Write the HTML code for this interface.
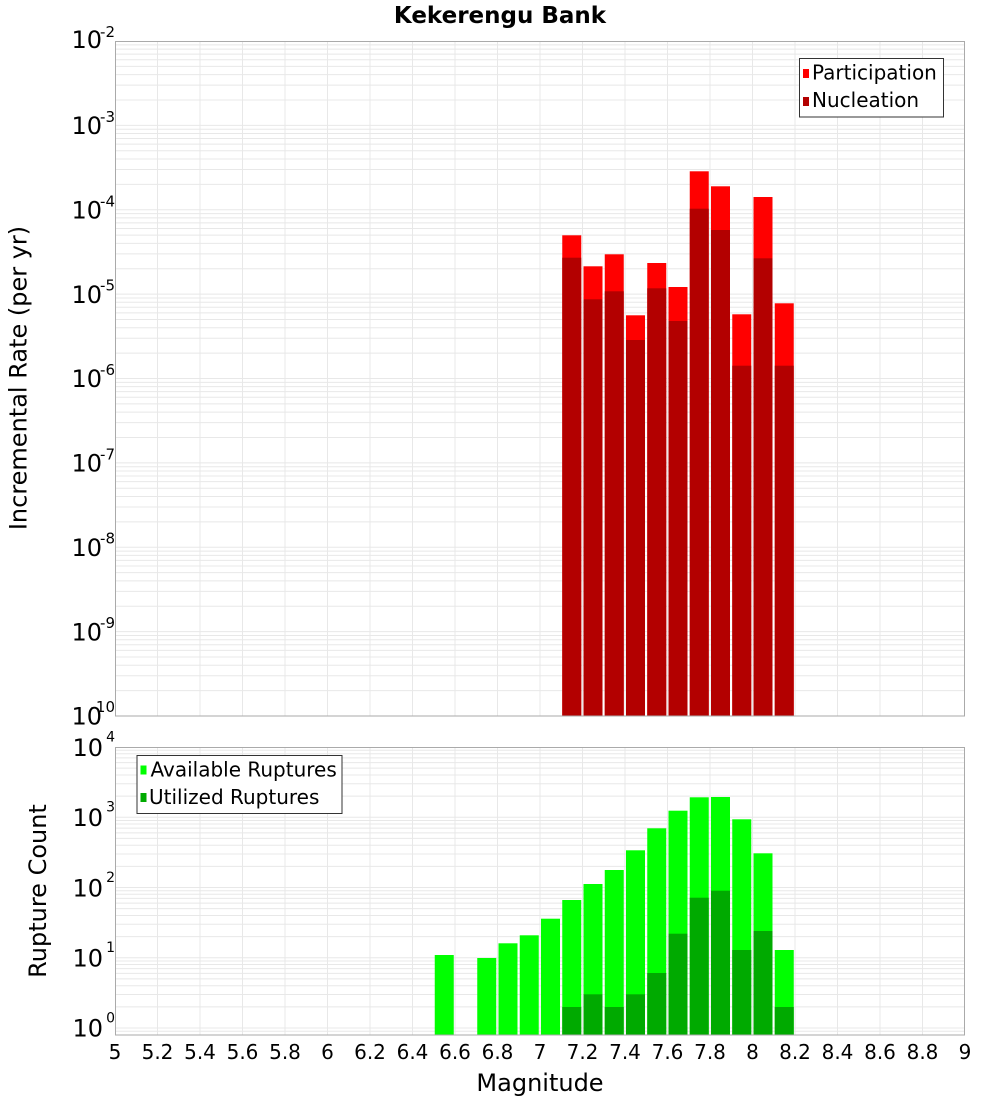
<!DOCTYPE html>
<html><head><meta charset="utf-8"><style>
html,body{margin:0;padding:0;background:#fff;}
svg{display:block;font-family:"DejaVu Sans","Liberation Sans",sans-serif;}
</style></head><body>
<svg width="1000" height="1100" viewBox="0 0 1000 1100" xmlns="http://www.w3.org/2000/svg">
<defs>
<g id="dt" stroke="#e8e8e8" stroke-width="1">
<line x1="115" x2="965" y1="0" y2="0"/><line x1="115" x2="965" y1="-25.4" y2="-25.4"/><line x1="115" x2="965" y1="-40.26" y2="-40.26"/><line x1="115" x2="965" y1="-50.8" y2="-50.8"/><line x1="115" x2="965" y1="-58.97" y2="-58.97"/><line x1="115" x2="965" y1="-65.65" y2="-65.65"/><line x1="115" x2="965" y1="-71.3" y2="-71.3"/><line x1="115" x2="965" y1="-76.2" y2="-76.2"/><line x1="115" x2="965" y1="-80.51" y2="-80.51"/>
</g>
<g id="db" stroke="#e8e8e8" stroke-width="1">
<line x1="115" x2="965" y1="0" y2="0"/><line x1="115" x2="965" y1="-21.15" y2="-21.15"/><line x1="115" x2="965" y1="-33.52" y2="-33.52"/><line x1="115" x2="965" y1="-42.3" y2="-42.3"/><line x1="115" x2="965" y1="-49.1" y2="-49.1"/><line x1="115" x2="965" y1="-54.66" y2="-54.66"/><line x1="115" x2="965" y1="-59.37" y2="-59.37"/><line x1="115" x2="965" y1="-63.44" y2="-63.44"/><line x1="115" x2="965" y1="-67.03" y2="-67.03"/>
</g>
</defs>

<!-- title -->
<text x="500" y="23" font-size="23" font-weight="bold" text-anchor="middle" fill="#000">Kekerengu Bank</text>

<!-- ===== TOP PLOT ===== -->
<rect x="115" y="41" width="850" height="675" fill="#fff"/>
<use href="#dt" transform="translate(0,716)"/>
<use href="#dt" transform="translate(0,631.625)"/>
<use href="#dt" transform="translate(0,547.25)"/>
<use href="#dt" transform="translate(0,462.875)"/>
<use href="#dt" transform="translate(0,378.5)"/>
<use href="#dt" transform="translate(0,294.125)"/>
<use href="#dt" transform="translate(0,209.75)"/>
<use href="#dt" transform="translate(0,125.375)"/>
<g stroke="#e8e8e8" stroke-width="1">
<line x1="157.5" x2="157.5" y1="41" y2="716"/><line x1="200" x2="200" y1="41" y2="716"/><line x1="242.5" x2="242.5" y1="41" y2="716"/><line x1="285" x2="285" y1="41" y2="716"/><line x1="327.5" x2="327.5" y1="41" y2="716"/><line x1="370" x2="370" y1="41" y2="716"/><line x1="412.5" x2="412.5" y1="41" y2="716"/><line x1="455" x2="455" y1="41" y2="716"/><line x1="497.5" x2="497.5" y1="41" y2="716"/><line x1="540" x2="540" y1="41" y2="716"/><line x1="582.5" x2="582.5" y1="41" y2="716"/><line x1="625" x2="625" y1="41" y2="716"/><line x1="667.5" x2="667.5" y1="41" y2="716"/><line x1="710" x2="710" y1="41" y2="716"/><line x1="752.5" x2="752.5" y1="41" y2="716"/><line x1="795" x2="795" y1="41" y2="716"/><line x1="837.5" x2="837.5" y1="41" y2="716"/><line x1="880" x2="880" y1="41" y2="716"/><line x1="922.5" x2="922.5" y1="41" y2="716"/>
</g>
<!-- participation bars -->
<g fill="#ff0000">
<rect x="562.25" y="235.3" width="19" height="480.7"/>
<rect x="583.5" y="266.3" width="19" height="449.7"/>
<rect x="604.75" y="254.3" width="19" height="461.7"/>
<rect x="626" y="315.3" width="19" height="400.7"/>
<rect x="647.25" y="263" width="19" height="453"/>
<rect x="668.5" y="287" width="19" height="429"/>
<rect x="689.75" y="171.3" width="19" height="544.7"/>
<rect x="711" y="186.3" width="19" height="529.7"/>
<rect x="732.25" y="314.3" width="19" height="401.7"/>
<rect x="753.5" y="197" width="19" height="519"/>
<rect x="774.75" y="303.3" width="19" height="412.7"/>
</g>
<!-- nucleation bars -->
<g fill="#b30000">
<rect x="562.25" y="257.7" width="19" height="458.3"/>
<rect x="583.5" y="299.3" width="19" height="416.7"/>
<rect x="604.75" y="291.3" width="19" height="424.7"/>
<rect x="626" y="340" width="19" height="376"/>
<rect x="647.25" y="288.3" width="19" height="427.7"/>
<rect x="668.5" y="321" width="19" height="395"/>
<rect x="689.75" y="208.7" width="19" height="507.3"/>
<rect x="711" y="230" width="19" height="486"/>
<rect x="732.25" y="365.7" width="19" height="350.3"/>
<rect x="753.5" y="258.3" width="19" height="457.7"/>
<rect x="774.75" y="365.7" width="19" height="350.3"/>
</g>
<rect x="115.5" y="41.5" width="849" height="674.5" fill="none" stroke="#aaaaaa" stroke-width="1"/>

<!-- top legend -->
<rect x="799.5" y="58.5" width="144" height="58.5" fill="#fff" stroke="#333" stroke-width="1"/>
<rect x="803" y="69" width="6" height="9" fill="#ff0000"/>
<rect x="803" y="97" width="6" height="9" fill="#b30000"/>
<text x="812" y="79.5" font-size="20" fill="#000">Participation</text>
<text x="812" y="107" font-size="20" fill="#000">Nucleation</text>

<!-- top y tick labels -->
<g font-size="24" fill="#000" text-anchor="end">
<text x="102" y="48">10</text>
<text x="102" y="134">10</text>
<text x="102" y="218.5">10</text>
<text x="102" y="303">10</text>
<text x="102" y="387">10</text>
<text x="102" y="471.5">10</text>
<text x="102" y="556">10</text>
<text x="102" y="640.3">10</text>
<text x="102" y="724.7">10</text>
</g>
<g font-size="15" fill="#000" text-anchor="end">
<text x="115" y="37">-2</text>
<text x="115" y="122">-3</text>
<text x="115" y="206.3">-4</text>
<text x="115" y="290.6">-5</text>
<text x="115" y="375">-6</text>
<text x="115" y="459.4">-7</text>
<text x="115" y="543.7">-8</text>
<text x="115" y="628">-9</text>
<text x="115" y="712">-10</text>
</g>
<text transform="translate(26.5,378) rotate(-90)" font-size="24" text-anchor="middle" fill="#000">Incremental Rate (per yr)</text>

<!-- ===== BOTTOM PLOT ===== -->
<rect x="115" y="747" width="850" height="288" fill="#fff"/>
<use href="#db" transform="translate(0,1028)"/>
<use href="#db" transform="translate(0,957.75)"/>
<use href="#db" transform="translate(0,887.5)"/>
<use href="#db" transform="translate(0,817.25)"/>
<line x1="115" x2="965" y1="1031.2" y2="1031.2" stroke="#e8e8e8" stroke-width="1"/>
<g stroke="#e8e8e8" stroke-width="1">
<line x1="157.5" x2="157.5" y1="747" y2="1035"/><line x1="200" x2="200" y1="747" y2="1035"/><line x1="242.5" x2="242.5" y1="747" y2="1035"/><line x1="285" x2="285" y1="747" y2="1035"/><line x1="327.5" x2="327.5" y1="747" y2="1035"/><line x1="370" x2="370" y1="747" y2="1035"/><line x1="412.5" x2="412.5" y1="747" y2="1035"/><line x1="455" x2="455" y1="747" y2="1035"/><line x1="497.5" x2="497.5" y1="747" y2="1035"/><line x1="540" x2="540" y1="747" y2="1035"/><line x1="582.5" x2="582.5" y1="747" y2="1035"/><line x1="625" x2="625" y1="747" y2="1035"/><line x1="667.5" x2="667.5" y1="747" y2="1035"/><line x1="710" x2="710" y1="747" y2="1035"/><line x1="752.5" x2="752.5" y1="747" y2="1035"/><line x1="795" x2="795" y1="747" y2="1035"/><line x1="837.5" x2="837.5" y1="747" y2="1035"/><line x1="880" x2="880" y1="747" y2="1035"/><line x1="922.5" x2="922.5" y1="747" y2="1035"/>
</g>
<!-- available bars -->
<g fill="#00ff00">
<rect x="434.75" y="955" width="19" height="80"/>
<rect x="477.25" y="958" width="19" height="77"/>
<rect x="498.5" y="943.3" width="19" height="91.7"/>
<rect x="519.75" y="935.3" width="19" height="99.7"/>
<rect x="541" y="918.7" width="19" height="116.3"/>
<rect x="562.25" y="900" width="19" height="135"/>
<rect x="583.5" y="884" width="19" height="151"/>
<rect x="604.75" y="870" width="19" height="165"/>
<rect x="626" y="850.3" width="19" height="184.7"/>
<rect x="647.25" y="828.3" width="19" height="206.7"/>
<rect x="668.5" y="810.7" width="19" height="224.3"/>
<rect x="689.75" y="797.3" width="19" height="237.7"/>
<rect x="711" y="797" width="19" height="238"/>
<rect x="732.25" y="819.3" width="19" height="215.7"/>
<rect x="753.5" y="853.3" width="19" height="181.7"/>
<rect x="774.75" y="950" width="19" height="85"/>
</g>
<!-- utilized bars -->
<g fill="#00aa00">
<rect x="562.25" y="1007" width="19" height="28"/>
<rect x="583.5" y="994.3" width="19" height="40.7"/>
<rect x="604.75" y="1007" width="19" height="28"/>
<rect x="626" y="994.3" width="19" height="40.7"/>
<rect x="647.25" y="973" width="19" height="62"/>
<rect x="668.5" y="933.7" width="19" height="101.3"/>
<rect x="689.75" y="897.7" width="19" height="137.3"/>
<rect x="711" y="890.7" width="19" height="144.3"/>
<rect x="732.25" y="950" width="19" height="85"/>
<rect x="753.5" y="931" width="19" height="104"/>
<rect x="774.75" y="1007" width="19" height="28"/>
</g>
<rect x="115.5" y="747.5" width="849" height="287.5" fill="none" stroke="#aaaaaa" stroke-width="1"/>

<!-- bottom legend -->
<rect x="137" y="755.5" width="205" height="58" fill="#fff" stroke="#333" stroke-width="1"/>
<rect x="140.5" y="765.5" width="6" height="9" fill="#00ff00"/>
<rect x="140.5" y="793" width="6" height="9" fill="#00aa00"/>
<text x="150.5" y="776.5" font-size="20" fill="#000">Available Ruptures</text>
<text x="149" y="804" font-size="20" fill="#000">Utilized Ruptures</text>

<!-- bottom y tick labels -->
<g font-size="24" fill="#000" text-anchor="end">
<text x="103" y="756">10</text>
<text x="103" y="826">10</text>
<text x="103" y="896.3">10</text>
<text x="103" y="966.5">10</text>
<text x="103" y="1036.7">10</text>
</g>
<g font-size="14" fill="#000" text-anchor="end">
<text x="115" y="741.5">4</text>
<text x="115" y="811.5">3</text>
<text x="115" y="881.8">2</text>
<text x="115" y="952">1</text>
<text x="115" y="1022.3">0</text>
</g>
<text transform="translate(46,891) rotate(-90)" font-size="24" text-anchor="middle" fill="#000">Rupture Count</text>

<!-- x ticks -->
<g font-size="20" fill="#000" text-anchor="middle">
<text x="115" y="1059">5</text>
<text x="157.5" y="1059">5.2</text>
<text x="200" y="1059">5.4</text>
<text x="242.5" y="1059">5.6</text>
<text x="285" y="1059">5.8</text>
<text x="327.5" y="1059">6</text>
<text x="370" y="1059">6.2</text>
<text x="412.5" y="1059">6.4</text>
<text x="455" y="1059">6.6</text>
<text x="497.5" y="1059">6.8</text>
<text x="540" y="1059">7</text>
<text x="582.5" y="1059">7.2</text>
<text x="625" y="1059">7.4</text>
<text x="667.5" y="1059">7.6</text>
<text x="710" y="1059">7.8</text>
<text x="752.5" y="1059">8</text>
<text x="795" y="1059">8.2</text>
<text x="837.5" y="1059">8.4</text>
<text x="880" y="1059">8.6</text>
<text x="922.5" y="1059">8.8</text>
<text x="965" y="1059">9</text>
</g>
<text x="540" y="1091" font-size="24" text-anchor="middle" fill="#000">Magnitude</text>
</svg>
</body></html>
